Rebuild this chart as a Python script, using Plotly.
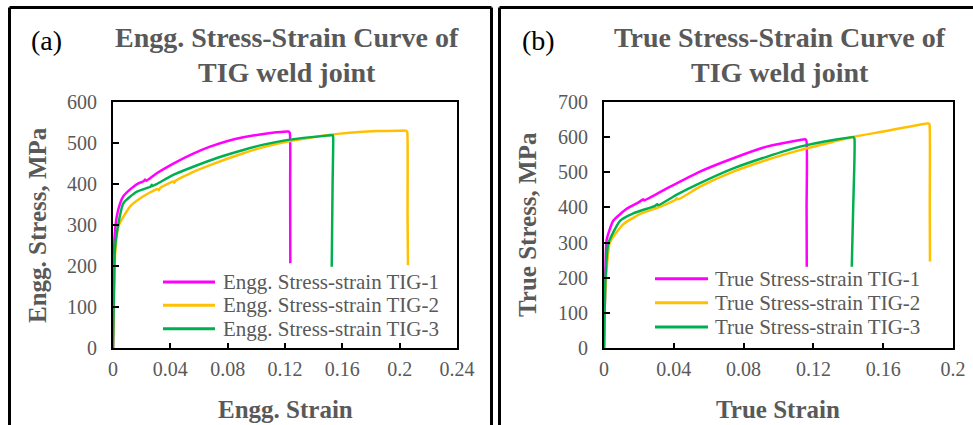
import plotly.graph_objects as go

W, H = 973, 425

# ---- Engineering stress-strain data (strain, stress in MPa) ----
eng_tig1_strain = [0, 0.0006, 0.001, 0.0026, 0.0049, 0.0072, 0.013, 0.018, 0.0215, 0.0223,
                   0.0232, 0.03, 0.0444, 0.056, 0.0677, 0.08, 0.0909, 0.105, 0.114, 0.1224,
                   0.1233, 0.1236, 0.1237]
eng_tig1_stress = [0, 150, 263, 320, 352, 370, 390, 402, 407, 411,
                   408, 425, 454, 474, 491, 505, 514, 522, 526, 528,
                   525, 400, 207]

eng_tig2_strain = [0, 0.0008, 0.0015, 0.0037, 0.0119, 0.0212, 0.031, 0.032, 0.0328, 0.042,
                   0.0428, 0.0433, 0.055, 0.0677, 0.0909, 0.105, 0.121, 0.149, 0.165, 0.184,
                   0.2, 0.2047, 0.2053, 0.2055, 0.2058]
eng_tig2_stress = [0, 150, 230, 296, 345, 370, 388, 385, 390, 406,
                   403, 407, 428, 446, 475, 490, 503, 519, 525, 529,
                   530, 530, 526, 329, 202]

eng_tig3_strain = [0, 0.0007, 0.0013, 0.0026, 0.0072, 0.0165, 0.0265, 0.027, 0.0275, 0.0305,
                   0.042, 0.056, 0.073, 0.0909, 0.105, 0.121, 0.149, 0.1533, 0.1536,
                   0.1532, 0.1526]
eng_tig3_stress = [0, 150, 240, 280, 353, 381, 394, 398, 395, 400,
                   422, 442, 464, 483, 496, 507, 518, 519, 515,
                   400, 198]

# ---- True stress-strain data ----
true_tig1_strain = [0, 0.0007, 0.0015, 0.0053, 0.013, 0.02, 0.0225, 0.023, 0.036, 0.055,
                    0.0741, 0.0932, 0.1123, 0.1152, 0.116, 0.1161, 0.1162]
true_tig1_stress = [0, 180, 307, 362, 396, 415, 423, 420, 454, 502,
                    540, 573, 592, 594, 590, 400, 231]

true_tig2_strain = [0, 0.0008, 0.0034, 0.011, 0.0206, 0.0321, 0.041, 0.0417, 0.0425, 0.055,
                    0.0741, 0.0932, 0.1123, 0.1314, 0.1429, 0.16, 0.185, 0.1862, 0.1866,
                    0.1867, 0.1868]
true_tig2_stress = [0, 170, 300, 352, 381, 402, 422, 426, 423, 459,
                    502, 535, 563, 587, 601, 616, 639, 639, 634,
                    400, 246]

true_tig3_strain = [0, 0.0008, 0.0025, 0.0092, 0.0168, 0.029, 0.0305, 0.031, 0.042, 0.055,
                    0.0741, 0.0932, 0.1123, 0.1314, 0.1429, 0.1435, 0.1428, 0.142]
true_tig3_stress = [0, 190, 298, 362, 383, 404, 409, 406, 437, 469,
                    511, 544, 573, 592, 600, 596, 400, 231]

eng_names = ["Engg. Stress-strain TIG-1", "Engg. Stress-strain TIG-2", "Engg. Stress-strain TIG-3"]
true_names = ["True Stress-strain TIG-1", "True Stress-strain TIG-2", "True Stress-strain TIG-3"]
colors = ["#FF00FF", "#FFC000", "#00B050"]

eng_xticks = [0, 0.04, 0.08, 0.12, 0.16, 0.2, 0.24]
eng_xticktext = ["0", "0.04", "0.08", "0.12", "0.16", "0.2", "0.24"]
eng_yticks = [0, 100, 200, 300, 400, 500, 600]
true_xticks = [0, 0.04, 0.08, 0.12, 0.16, 0.2]
true_xticktext = ["0", "0.04", "0.08", "0.12", "0.16", "0.2"]
true_yticks = [0, 100, 200, 300, 400, 500, 600, 700]

GRAY = "#595959"
SERIF = "Liberation Serif, Times New Roman, serif"


def px(x):
    return x / W


def py(y):
    return 1 - y / H


fig = go.Figure()

eng_sets = [(eng_tig1_strain, eng_tig1_stress), (eng_tig2_strain, eng_tig2_stress),
            (eng_tig3_strain, eng_tig3_stress)]
true_sets = [(true_tig1_strain, true_tig1_stress), (true_tig2_strain, true_tig2_stress),
             (true_tig3_strain, true_tig3_stress)]

curve_line = dict(width=2.5, shape="spline", smoothing=0.5)
for (xs, ys), name, c in zip(eng_sets, eng_names, colors):
    fig.add_trace(go.Scatter(x=xs, y=ys, mode="lines", name=name,
                             line=dict(color=c, **curve_line), xaxis="x", yaxis="y",
                             showlegend=False))
for (xs, ys), name, c in zip(true_sets, true_names, colors):
    fig.add_trace(go.Scatter(x=xs, y=ys, mode="lines", name=name,
                             line=dict(color=c, **curve_line), xaxis="x2", yaxis="y2",
                             showlegend=False))

axis_common = dict(showline=True, linecolor="black", linewidth=2, mirror=True,
                   ticks="inside", tickcolor="black", tickwidth=2, showgrid=False,
                   zeroline=False, automargin=False,
                   tickfont=dict(family=SERIF, size=20, color=GRAY))

fig.update_layout(
    width=W, height=H, autosize=False,
    margin=dict(l=0, r=0, t=0, b=0, pad=0, autoexpand=False),
    paper_bgcolor="white", plot_bgcolor="white",
    xaxis=dict(domain=[px(113), px(457)], range=[0, 0.24], tickvals=eng_xticks,
               ticktext=eng_xticktext, ticklen=5, anchor="y", ticklabelstandoff=2,
               **axis_common),
    yaxis=dict(domain=[py(348), py(102)], range=[0, 600], tickvals=eng_yticks,
               ticklen=6, anchor="x", ticklabelstandoff=10, **axis_common),
    xaxis2=dict(domain=[px(604), px(953)], range=[0, 0.2], tickvals=true_xticks,
                ticktext=true_xticktext, ticklen=5, anchor="y2", ticklabelstandoff=2,
                **axis_common),
    yaxis2=dict(domain=[py(348), py(102)], range=[0, 700], tickvals=true_yticks,
                ticklen=6, anchor="x2", ticklabelstandoff=10, **axis_common),
)

# Panel frames (open at the bottom / right where the page edge cuts them)
frame = dict(color="black", width=3)
for x0, x1, y0, y1 in [
    (9.5, 491.5, 7.5, 7.5), (9.5, 9.5, 7.5, 425), (491.5, 491.5, 7.5, 425),
    (499.5, 973, 7.5, 7.5), (499.5, 499.5, 7.5, 425),
]:
    fig.add_shape(type="line", xref="paper", yref="paper",
                  x0=px(x0), x1=px(x1), y0=py(y0), y1=py(y1), line=frame, layer="below")

annotations = []


def text(x, y, s, size, color, bold=False, xanchor="center", angle=0):
    annotations.append(dict(
        x=px(x), y=py(y), xref="paper", yref="paper", showarrow=False,
        text=f"<b>{s}</b>" if bold else s, textangle=angle,
        xanchor=xanchor, yanchor="middle",
        font=dict(family=SERIF, size=size, color=color)))


# Panel labels and titles
text(29, 41, "(a)", 28, "black", xanchor="left")
text(287, 38, "Engg. Stress-Strain Curve of", 28, GRAY, bold=True)
text(287, 72, "TIG weld joint", 28, GRAY, bold=True)
text(520, 41, "(b)", 28, "black", xanchor="left")
text(780, 38, "True Stress-Strain Curve of", 28, GRAY, bold=True)
text(780, 72, "TIG weld joint", 28, GRAY, bold=True)

# Axis titles
text(37, 225, "Engg. Stress, MPa", 25, GRAY, bold=True, angle=-90)
text(285, 409, "Engg. Strain", 25, GRAY, bold=True)
text(527, 225, "True Stress, MPa", 25, GRAY, bold=True, angle=-90)
text(778, 409, "True Strain", 25, GRAY, bold=True)

# Legends
eng_leg_rows = [282, 305.3, 328.7]
true_leg_rows = [278.7, 302.7, 327]
for name, c, y in zip(eng_names, colors, eng_leg_rows):
    fig.add_shape(type="line", xref="paper", yref="paper",
                  x0=px(163), x1=px(215), y0=py(y), y1=py(y),
                  line=dict(color=c, width=3))
    text(221, y, name, 21, GRAY, xanchor="left")
for name, c, y in zip(true_names, colors, true_leg_rows):
    fig.add_shape(type="line", xref="paper", yref="paper",
                  x0=px(655), x1=px(708), y0=py(y), y1=py(y),
                  line=dict(color=c, width=3))
    text(713, y, name, 21, GRAY, xanchor="left")

fig.update_layout(annotations=annotations)

fig.write_html("out.html")
